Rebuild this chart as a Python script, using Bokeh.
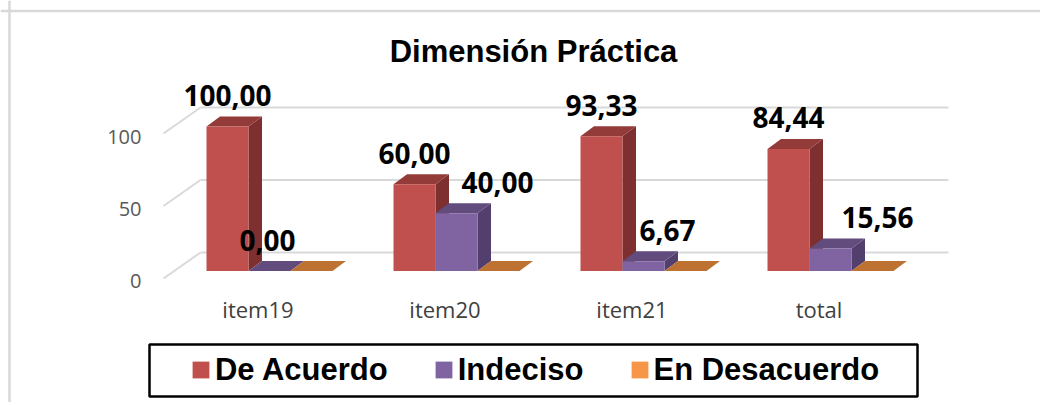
from bokeh.plotting import figure
from bokeh.models import (Range1d, LinearAxis, FixedTicker, Span, Legend, LegendItem,
                          ColumnDataSource)
from bokeh.core.properties import value
from bokeh.embed import file_html
from bokeh.resources import INLINE

# ---------------- data ----------------
categories = ["item19", "item20", "item21", "total"]
series_names = ["De Acuerdo", "Indeciso", "En Desacuerdo"]
de_acuerdo = [100.00, 60.00, 93.33, 84.44]
indeciso = [0.00, 40.00, 6.67, 15.56]
en_desacuerdo = [0.00, 0.00, 0.00, 0.00]
y_ticks = [0, 50, 100]
title_text = "Dimensión Práctica"

series_values = [de_acuerdo, indeciso, en_desacuerdo]

# ---------------- styles ----------------
front_colors = ["#c0504d", "#8064a2", "#f79646"]
top_colors = ["#933b39", "#624c7e", "#bd7231"]
side_colors = ["#7d302f", "#533f6d", "#a8622a"]
# horizontal shift of the value labels (px) – purple labels were moved in the original
label_dx = [[0, 0, 0, 0], [-2, 41, 24, 47], [0, 0, 0, 0]]

# ---------------- geometry helpers (page px -> data) ----------------
ORIGIN = 0                  # page position of the figure's top-left corner
W, H = 1040, 402
PX0, SX = 257.5, 187.0      # page x of category 0, px per category
PY0, SY = 270.5, 1.445      # page y of value 0 (bar plane), px per unit


def xd(px):
    return (px - PX0) / SX


def yd(py):
    return (PY0 - py) / SY


p = figure(width=W, height=H, output_backend="svg", toolbar_location=None,
           x_range=Range1d(xd(ORIGIN), xd(ORIGIN + W)),
           y_range=Range1d(yd(ORIGIN + H), yd(ORIGIN)),
           x_axis_location=None, y_axis_location=None,
           min_border=0, min_border_left=0, min_border_right=0,
           min_border_top=0, min_border_bottom=0)
p.outline_line_color = None
p.xgrid.visible = False
p.ygrid.visible = False
p.background_fill_color = "white"
p.border_fill_color = "white"

# ---------------- 3D walls: gridlines ----------------
GRID_SY = 1.45
gx0, gy0 = [], []
gx1, gy1 = [], []
for t in y_ticks:
    fy = 278 - GRID_SY * t     # front-left corner (page)
    by = 252 - GRID_SY * t     # back wall (page)
    # diagonal on side wall
    gx0.append(xd(163)); gy0.append(yd(fy)); gx1.append(xd(200)); gy1.append(yd(by))
    # back wall line
    gx0.append(xd(200)); gy0.append(yd(by)); gx1.append(xd(948)); gy1.append(yd(by))
p.segment(x0=gx0, y0=gy0, x1=gx1, y1=gy1, line_color="#d9d9d9", line_width=2)

# ---------------- 3D bars ----------------
BAR_W = 42.0 / SX
OFF0 = xd(206)
DX = 13.5 / SX
DY = 10.0 / SY

front_renderers = []
for k, vals in enumerate(series_values):
    lefts = [i + OFF0 + k * BAR_W for i in range(len(categories))]
    rights = [l + BAR_W for l in lefts]
    side_xs, side_ys, top_xs, top_ys = [], [], [], []
    for l, r, v in zip(lefts, rights, vals):
        top_xs.append([l, r, r + DX, l + DX])
        top_ys.append([v, v, v + DY, v + DY])
        if v > 0:
            side_xs.append([r, r + DX, r + DX, r])
            side_ys.append([0, DY, v + DY, v])
    if side_xs:
        p.patches(xs=side_xs, ys=side_ys, fill_color=side_colors[k], line_color=None)
    p.patches(xs=top_xs, ys=top_ys, fill_color=top_colors[k], line_color=None)
    src = ColumnDataSource(dict(left=lefts, right=rights,
                                bottom=[0] * len(vals), top=vals))
    fr = p.quad(left="left", right="right", bottom="bottom", top="top", source=src,
                fill_color=front_colors[k], line_color=None)
    front_renderers.append(fr)

# ---------------- value labels ----------------
for k, vals in enumerate(series_values[:2]):
    cx = [i + OFF0 + k * BAR_W + BAR_W / 2 for i in range(len(categories))]
    txt = [f"{v:.2f}".replace(".", ",") for v in vals]
    lsrc = ColumnDataSource(dict(x=cx, y=vals, text=txt, dx=label_dx[k]))
    p.text(x="x", y="y", text="text", source=lsrc, x_offset="dx", y_offset=-31,
           text_align="center", text_baseline="middle",
           text_font=value("Open Sans"), text_font_style="bold",
           text_font_size="28px", text_color="black")

# ---------------- title ----------------
p.text(x=[xd(533)], y=[yd(50.5)], text=[title_text], text_align="center",
       text_baseline="middle", text_font=value("Liberation Sans"),
       text_font_style="bold", text_font_size="31px", text_color="black")

# ---------------- axes ----------------
lab_off = 100 - yd(136)
p.extra_y_ranges = {"ylab": Range1d(yd(ORIGIN + H) + lab_off, yd(ORIGIN) + lab_off)}
yax = LinearAxis(y_range_name="ylab", fixed_location=xd(150),
                 ticker=FixedTicker(ticks=y_ticks))
yax.axis_line_color = None
yax.major_tick_line_color = None
yax.minor_tick_line_color = None
yax.major_tick_in = 0
yax.major_tick_out = 0
yax.major_label_standoff = 9
yax.major_label_text_font = "Open Sans"
yax.major_label_text_font_size = "20px"
yax.major_label_text_color = "#595959"
p.add_layout(yax, "left")

xax = LinearAxis(fixed_location=yd(287),
                 ticker=FixedTicker(ticks=list(range(len(categories)))),
                 major_label_overrides={i: c for i, c in enumerate(categories)})
xax.axis_line_color = None
xax.major_tick_line_color = None
xax.minor_tick_line_color = None
xax.major_tick_in = 0
xax.major_tick_out = 0
xax.major_label_standoff = 6
xax.major_label_text_font = "Open Sans"
xax.major_label_text_font_size = "22px"
xax.major_label_text_color = "#404040"
p.add_layout(xax, "below")

# ---------------- outer chart border ----------------
p.add_layout(Span(location=yd(10.5), dimension="width", line_color="#d9d9d9", line_width=2.5))
p.add_layout(Span(location=xd(9), dimension="height", line_color="#d9d9d9", line_width=2.5))

# ---------------- legend ----------------
p.quad(left=[xd(149)], right=[xd(917)], bottom=[yd(396)], top=[yd(344)],
       fill_color=None, line_color="black", line_width=2.5)
legend = Legend(items=[LegendItem(label=n, renderers=[r])
                       for n, r in zip(series_names, front_renderers)],
                orientation="horizontal",
                location=(189.9 - ORIGIN, (ORIGIN + H) - 387.5),
                glyph_width=21, glyph_height=21, label_standoff=4, spacing=45,
                padding=0, margin=0, label_height=36,
                border_line_color=None, background_fill_alpha=0,
                label_text_font="Liberation Sans", label_text_font_style="bold",
                label_text_font_size="31px", label_text_color="black")
p.add_layout(legend, "center")

open("out.html", "w").write(file_html(p, INLINE))
